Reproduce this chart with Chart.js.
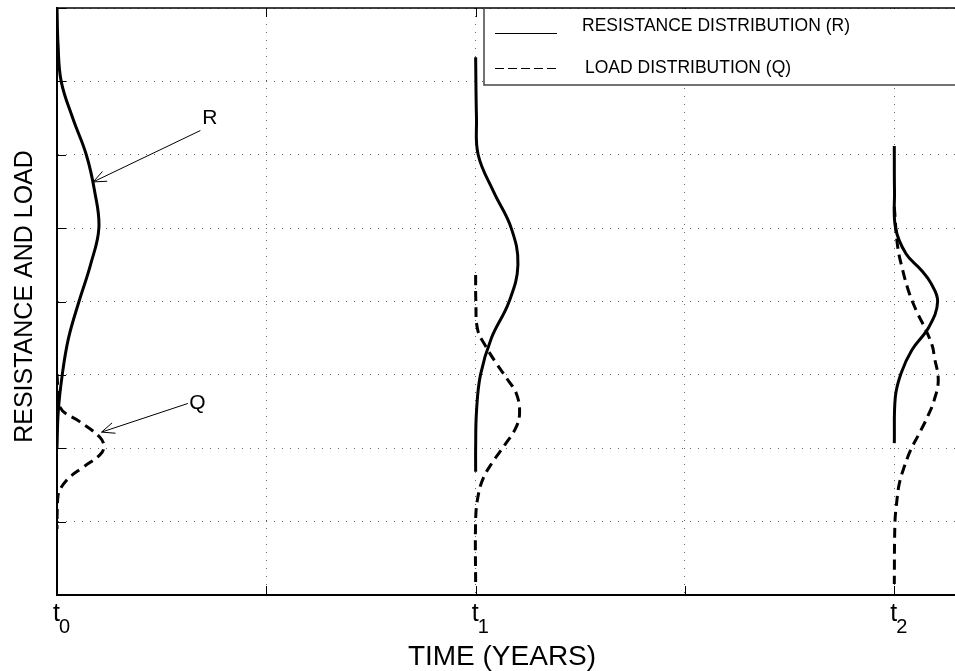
<!DOCTYPE html>
<html>
<head>
<meta charset="utf-8">
<script src="https://cdn.jsdelivr.net/npm/chart.js@4/dist/chart.umd.min.js"></script>
<style>
  html, body { margin: 0; padding: 0; background: #fff; }
</style>
</head>
<body>
<canvas id="chart" width="955" height="671"></canvas>
<script>
// axis ticks
let timeTicks = [0, 1, 2, 3, 4];
let timeSubs = ['0', '', '1', '', '2'];
let loadTicks = [0, 1, 2, 3, 4, 5, 6, 7, 8];

// resistance R (level on y, time on x)
let rT0Level = [8, 7.5, 7, 6.5, 6, 5.5, 5, 4.5, 4, 3.5, 3, 2.5, 2];
let rT0Time = [0, 0.005, 0.02, 0.075, 0.14, 0.18, 0.2, 0.16, 0.105, 0.055, 0.025, 0.006, 0];
let rT1Level = [7.33, 6.5, 6, 5.5, 5, 4.5, 4, 3.5, 3, 2.5, 2, 1.68];
let rT1Time = [2, 2.004, 2.012, 2.085, 2.17, 2.202, 2.16, 2.075, 2.023, 2.004, 2, 2];
let rT2Level = [6.12, 5.5, 5, 4.65, 4.43, 4.25, 4, 3.66, 3.34, 3.02, 2.7, 2.07];
let rT2Time = [4, 4.001, 4.006, 4.056, 4.128, 4.175, 4.207, 4.167, 4.084, 4.032, 4.005, 4];

// load Q
let qT0Level = [3.0, 2.56, 2.36, 2.15, 2.02, 1.91, 1.74, 1.57, 1.36, 1.0, 0.9];
let qT0Time = [0, 0.014, 0.11, 0.205, 0.224, 0.205, 0.124, 0.048, 0.005, 0, 0];
let qT1Level = [4.36, 4.0, 3.61, 3.38, 3.16, 2.93, 2.75, 2.5, 2.29, 2.04, 1.82, 1.59, 1.34, 1.02, 0.1];
let qT1Time = [2, 2.001, 2.01, 2.05, 2.098, 2.154, 2.194, 2.21, 2.194, 2.138, 2.083, 2.036, 2.011, 2, 2];
let qT2Level = [5.29, 4.75, 4.43, 4.11, 3.84, 3.61, 3.38, 3.25, 2.93, 2.66, 2.43, 2.2, 1.98, 1.75, 1.52, 1.25, 0.98, 0.15];
let qT2Time = [4, 4.016, 4.04, 4.072, 4.111, 4.151, 4.183, 4.191, 4.21, 4.191, 4.159, 4.119, 4.079, 4.048, 4.024, 4.011, 4.003, 4];

let legendLabels = ['RESISTANCE DISTRIBUTION (R)', 'LOAD DISTRIBUTION (Q)'];

// R and Q callouts, in data units
let callouts = [
    {text: 'R', at: [0.73, 6.5], from: [0.685, 6.33], to: [0.173, 5.63]},
    {text: 'Q', at: [0.671, 2.61], from: [0.625, 2.61], to: [0.213, 2.22]}
];

const FONT = '"Liberation Sans", Arial, sans-serif';

function curve(label, times, levels, dashed) {
    return {
        label: label,
        data: times.map((t, i) => ({x: t, y: levels[i]})),
        borderColor: '#000',
        borderWidth: 3,
        borderDash: dashed ? [10, 6] : [],
        pointRadius: 0,
        tension: 0.4,
        fill: false
    };
}

function arrow(ctx, x1, y1, x2, y2) {
    let ang = Math.atan2(y2 - y1, x2 - x1);
    ctx.beginPath();
    ctx.moveTo(x1, y1);
    ctx.lineTo(x2, y2);
    ctx.moveTo(x2 - 14 * Math.cos(ang - 0.4), y2 - 14 * Math.sin(ang - 0.4));
    ctx.lineTo(x2, y2);
    ctx.lineTo(x2 - 14 * Math.cos(ang + 0.4), y2 - 14 * Math.sin(ang + 0.4));
    ctx.stroke();
}

const decor = {
    id: 'decor',
    afterDraw(chart) {
        let ctx = chart.ctx;
        let a = chart.chartArea;
        let x = chart.scales.x;
        let y = chart.scales.y;
        ctx.save();
        ctx.strokeStyle = '#000';
        ctx.fillStyle = '#000';

        // top edge of the box
        ctx.lineWidth = 1.5;
        ctx.beginPath();
        ctx.moveTo(a.left, a.top);
        ctx.lineTo(a.right, a.top);
        ctx.stroke();

        // inward tick marks
        ctx.lineWidth = 1;
        ctx.beginPath();
        loadTicks.forEach(v => {
            let py = Math.round(y.getPixelForValue(v)) + 0.5;
            ctx.moveTo(a.left, py);
            ctx.lineTo(a.left + 9, py);
        });
        timeTicks.forEach(v => {
            let px = Math.round(x.getPixelForValue(v)) + 0.5;
            ctx.moveTo(px, a.bottom);
            ctx.lineTo(px, a.bottom - 9);
            ctx.moveTo(px, a.top);
            ctx.lineTo(px, a.top + 9);
        });
        ctx.stroke();

        // t0, t1, t2
        timeTicks.forEach((v, i) => {
            if (!timeSubs[i]) return;
            let px = x.getPixelForValue(v);
            ctx.font = '25px ' + FONT;
            ctx.textAlign = 'right';
            ctx.textBaseline = 'alphabetic';
            ctx.fillText('t', px + 3, a.bottom + 26);
            ctx.font = '20px ' + FONT;
            ctx.textAlign = 'left';
            ctx.fillText(timeSubs[i], px + 2, a.bottom + 38);
        });

        // axis titles
        ctx.font = '28px ' + FONT;
        ctx.textAlign = 'center';
        ctx.textBaseline = 'alphabetic';
        ctx.fillText('TIME (YEARS)', 502, 665);

        ctx.save();
        ctx.translate(32, (a.top + a.bottom) / 2 - 5);
        ctx.rotate(-Math.PI / 2);
        ctx.font = '25px ' + FONT;
        ctx.fillText('RESISTANCE AND LOAD', 0, 0);
        ctx.restore();

        // callouts
        ctx.lineWidth = 1;
        callouts.forEach(c => {
            arrow(ctx, x.getPixelForValue(c.from[0]), y.getPixelForValue(c.from[1]),
                x.getPixelForValue(c.to[0]), y.getPixelForValue(c.to[1]));
            ctx.font = '21px ' + FONT;
            ctx.textAlign = 'center';
            ctx.textBaseline = 'middle';
            ctx.fillText(c.text, x.getPixelForValue(c.at[0]), y.getPixelForValue(c.at[1]));
        });

        // legend box
        let lx = 484, lb = 85;
        ctx.fillStyle = '#fff';
        ctx.fillRect(lx, a.top + 1, chart.width - lx, lb - a.top - 1);
        ctx.strokeStyle = '#444';
        ctx.lineWidth = 1.5;
        ctx.beginPath();
        ctx.moveTo(lx, a.top);
        ctx.lineTo(lx, lb);
        ctx.lineTo(chart.width, lb);
        ctx.stroke();

        ctx.strokeStyle = '#000';
        ctx.lineWidth = 1.2;
        ctx.beginPath();
        ctx.moveTo(495, 33.5);
        ctx.lineTo(557, 33.5);
        ctx.stroke();
        ctx.setLineDash([9, 4]);
        ctx.beginPath();
        ctx.moveTo(495, 68.5);
        ctx.lineTo(560, 68.5);
        ctx.stroke();
        ctx.setLineDash([]);

        ctx.fillStyle = '#000';
        ctx.font = '17.5px ' + FONT;
        ctx.textAlign = 'left';
        ctx.textBaseline = 'alphabetic';
        ctx.fillText(legendLabels[0], 582, 31);
        ctx.fillText(legendLabels[1], 585, 73);
        ctx.restore();
    }
};

let chart = new Chart(document.getElementById('chart'), {
    type: 'line',
    data: {
        datasets: [
            curve('R t0', rT0Time, rT0Level, false),
            curve('R t1', rT1Time, rT1Level, false),
            curve('R t2', rT2Time, rT2Level, false),
            curve('Q t0', qT0Time, qT0Level, true),
            curve('Q t1', qT1Time, qT1Level, true),
            curve('Q t2', qT2Time, qT2Level, true)
        ]
    },
    options: {
        responsive: false,
        animation: false,
        layout: {padding: {left: 57, top: 8, right: 0, bottom: 76}},
        plugins: {legend: {display: false}, tooltip: {enabled: false}},
        scales: {
            x: {
                type: 'linear',
                min: 0,
                max: 4.29,
                afterBuildTicks: s => { s.ticks = timeTicks.map(v => ({value: v})); },
                ticks: {display: false},
                grid: {color: '#666', drawTicks: false},
                border: {display: true, color: '#000', width: 2, dash: [1, 7]}
            },
            y: {
                type: 'linear',
                min: 0,
                max: 8,
                afterBuildTicks: s => { s.ticks = loadTicks.map(v => ({value: v})); },
                ticks: {display: false},
                grid: {color: '#666', drawTicks: false},
                border: {display: true, color: '#000', width: 2, dash: [1, 7]}
            }
        }
    },
    plugins: [decor]
});
</script>
</body>
</html>
